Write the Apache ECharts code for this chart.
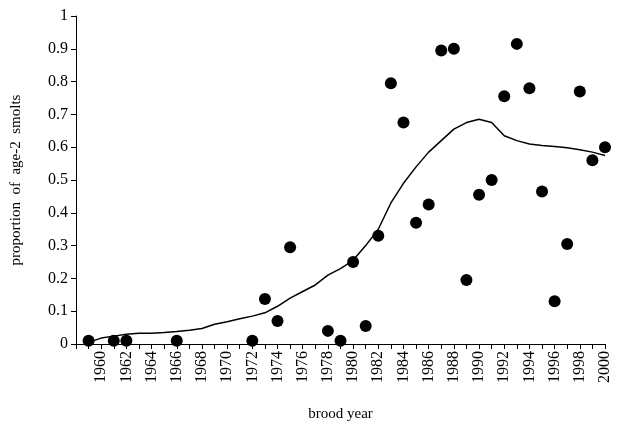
<!DOCTYPE html><html><head><meta charset="utf-8"><script src="https://cdn.jsdelivr.net/npm/echarts@6/dist/echarts.min.js"></script></head><body style="margin:0"><div id="c" style="width:618px;height:434px"></div><script>
var pointYears=[1959,1961,1962,1966,1972,1973,1974,1975,1978,1979,1980,1981,1982,1983,1984,1985,1986,1987,1988,1989,1990,1991,1992,1993,1994,1995,1996,1997,1998,1999,2000];
var pointVals=[0.01,0.01,0.01,0.01,0.01,0.137,0.07,0.295,0.04,0.01,0.25,0.055,0.33,0.795,0.675,0.37,0.425,0.895,0.9,0.195,0.455,0.5,0.755,0.915,0.78,0.465,0.13,0.305,0.77,0.56,0.6];
var lineYears=[1959,1960,1961,1962,1963,1964,1965,1966,1967,1968,1969,1970,1971,1972,1973,1974,1975,1976,1977,1978,1979,1980,1981,1982,1983,1984,1985,1986,1987,1988,1989,1990,1991,1992,1993,1994,1995,1996,1997,1998,1999,2000];
var lineVals=[0.005,0.018,0.024,0.03,0.033,0.033,0.035,0.038,0.042,0.047,0.06,0.068,0.077,0.085,0.095,0.115,0.14,0.16,0.18,0.21,0.23,0.255,0.3,0.35,0.43,0.49,0.54,0.585,0.62,0.655,0.675,0.685,0.675,0.635,0.62,0.61,0.605,0.602,0.598,0.592,0.585,0.575];
var f='Liberation Serif';
var ch=echarts.init(document.getElementById('c'));
ch.setOption({animation:false,textStyle:{fontFamily:f},
grid:{left:76,right:13,top:16,bottom:90,containLabel:false},
xAxis:{type:'value',min:1958,max:2000,interval:1,name:'brood year',nameLocation:'middle',nameGap:63,nameTextStyle:{fontFamily:f,fontSize:15,color:'#000'},
 axisLine:{lineStyle:{color:'#000'}},axisTick:{length:5,lineStyle:{color:'#000'}},splitLine:{show:false},
 axisLabel:{rotate:90,fontFamily:f,fontSize:16,color:'#000',margin:7,formatter:function(v){return v%2===0&&v>=1960?String(v):'';}}},
yAxis:{type:'value',min:0,max:1,interval:0.1,name:'proportion  of  age-2  smolts',nameLocation:'middle',nameGap:52,nameTextStyle:{fontFamily:f,fontSize:15,color:'#000'},
 axisLine:{show:true,lineStyle:{color:'#000'}},axisTick:{show:true,length:5,lineStyle:{color:'#000'}},splitLine:{show:false},
 axisLabel:{fontFamily:f,fontSize:16,color:'#000',formatter:function(v){return String(Math.round(v*10)/10);}}},
series:[{type:'line',data:lineYears.map(function(y,i){return [y,lineVals[i]];}),showSymbol:false,lineStyle:{color:'#000',width:1.5},z:1},
{type:'scatter',data:pointYears.map(function(y,i){return [y,pointVals[i]];}),symbolSize:12,itemStyle:{color:'#000',opacity:1},z:2}]});
</script></body></html>
